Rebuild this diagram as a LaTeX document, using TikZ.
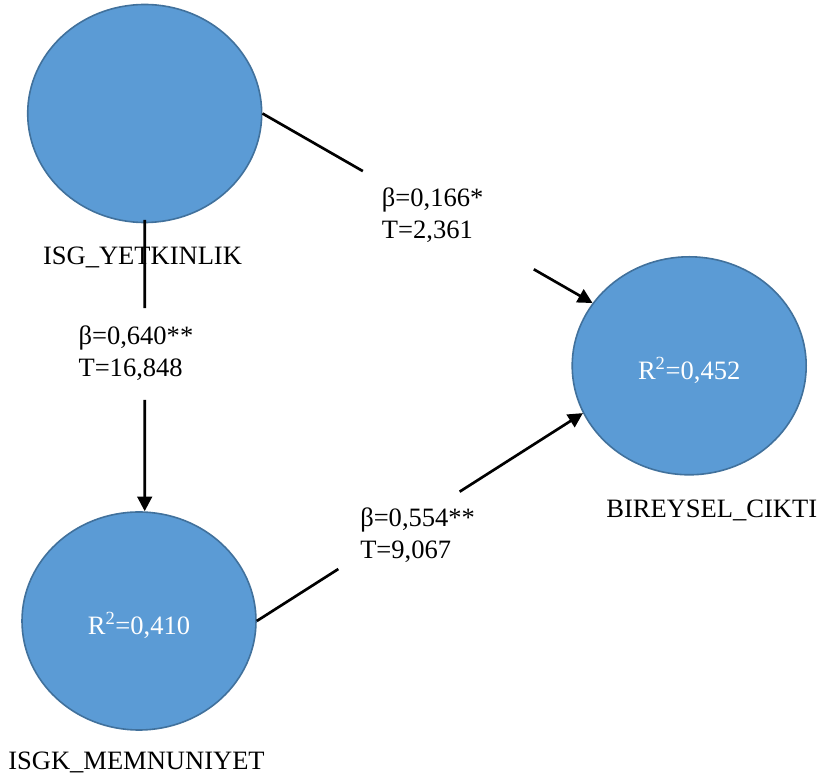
\documentclass[tikz,border=0pt]{standalone}
\usepackage{fontspec}
\setmainfont{Liberation Serif}
\usetikzlibrary{arrows.meta,calc,shapes.geometric}
\definecolor{cfill}{RGB}{91,155,213}
\definecolor{cborder}{RGB}{65,113,156}
\begin{document}
\begin{tikzpicture}[x=0.75pt,y=-0.75pt,
  latent/.style={ellipse, draw=cborder, line width=1.2pt, fill=cfill,
    minimum width=175.5pt, minimum height=163.5pt, inner sep=0pt,
    text=white, text height=21pt, text depth=0pt,
    font=\fontsize{19.9}{23.8}\selectfont},
  lbl/.style={font=\fontsize{19.9}{23.8}\selectfont, anchor=base, inner sep=0pt},
  coef/.style={font=\fontsize{19.9}{23.8}\selectfont, align=left, anchor=base west, inner sep=0pt},
  conn/.style={line width=2pt, black},
  tip/.style={-{Triangle[length=11pt,width=11pt]}}]
\useasboundingbox (0,0) rectangle (819,780);

\node[latent] (isg) at (144.7,113.5) {};
\node[latent] (bir) at (689.2,365.8) {R\textsuperscript{2}=0,452};
\node[latent] (isgk) at (139,621) {R\textsuperscript{2}=0,410};

\node[lbl] (lisg) at (142.5,265) {ISG\_YETKINLIK};
\node[lbl] (lbir) at (711.7,518) {BIREYSEL\_CIKTI};
\node[lbl] (lisgk) at (136.5,770) {ISGK\_MEMNUNIYET};

\node[coef] (c1) at (381.7,238.3) {β=0,166*\\T=2,361};
\node[coef] (c2) at (78.3,376.7) {β=0,640**\\T=16,848};
\node[coef] (c3) at (360,558.3) {β=0,554**\\T=9,067};

\coordinate (e1) at (bir.147.8);
\coordinate (e2) at (bir.204.1);
\coordinate (e3) at (isg.south |- isgk.north);

\draw[conn] (isg.east) -- ($(isg.east)!0.304!(e1)$);
\draw[conn,tip] ($(isg.east)!0.822!(e1)$) -- (e1);

\draw[conn] (isgk.east) -- ($(isgk.east)!0.25!(e2)$);
\draw[conn,tip] ($(isgk.east)!0.622!(e2)$) -- (e2);

\draw[conn] ([yshift=2.5pt]isg.south) -- ($(isg.south)!0.295!(e3)$);
\draw[conn,tip] ($(isg.south)!0.613!(e3)$) -- (e3);
\end{tikzpicture}
\end{document}
